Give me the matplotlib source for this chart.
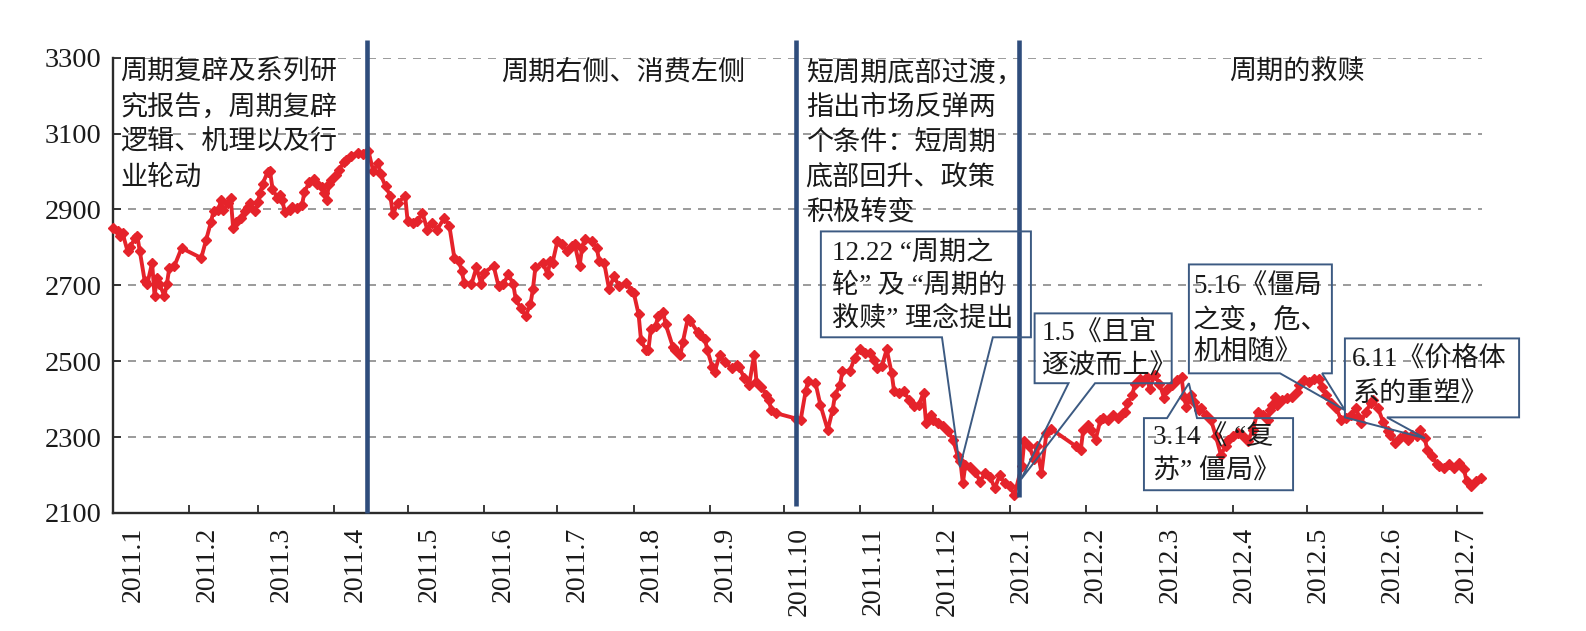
import numpy as np
import matplotlib
matplotlib.use('Agg')
import matplotlib.pyplot as plt
import matplotlib.dates as mdates
from matplotlib.patches import Polygon
from matplotlib.ticker import FixedLocator, NullFormatter, FixedFormatter

FONT = ['Liberation Serif', 'Noto Sans CJK SC', 'DejaVu Sans']
plt.rcParams['font.family'] = FONT

# ---------------- data (days since 2011-01-04, index close) ----------------
start_date = '2011-01-04'
day_offset = [
    0, 2, 3, 4, 6, 7, 9, 10, 11, 13, 14, 16, 17, 18, 19, 21, 22, 23, 25, 28,
    36, 38, 40, 41, 43, 44, 45, 47, 48, 49, 50, 52, 54, 55, 56, 58, 59, 60, 61, 63,
    64, 65, 67, 68, 69, 70, 72, 73, 75, 77, 78, 80, 82, 83, 85, 86, 87, 88, 89, 91,
    92, 94, 95, 97,
    100, 102, 104, 106, 108, 109, 111, 113, 114, 116, 119, 120, 122, 124, 126, 128,
    130, 132, 135, 137, 139, 141, 142, 143, 146, 148, 150, 151, 155, 157, 159, 161,
    163, 164, 166, 168, 170, 171, 172, 175, 177, 178, 179, 181, 183, 185, 187, 188,
    190, 191, 192, 195,
    197, 198, 200, 202, 204, 206, 209, 211, 212, 214, 215, 217, 218, 219, 221, 222,
    224, 225, 228, 229, 231, 232, 234, 235, 238, 239, 241, 242, 244, 245, 247, 249,
    252, 254, 255, 257, 259, 261, 262, 264, 266, 267, 268, 270, 278, 280,
    282, 283, 286, 288, 291, 293, 294, 296, 297, 300, 302, 304, 306, 308, 310, 311,
    313, 315, 317, 318, 320, 322, 324, 326, 328, 330, 331, 333, 334, 336, 338, 340,
    342, 344, 345, 346, 347, 349, 351, 353, 355, 357, 359, 361, 363, 365, 367,
    370, 371, 373, 375, 376, 378, 380, 382, 392, 394, 395, 397, 398, 400, 402, 403,
    405, 407, 409, 411, 412, 413, 415, 416, 418, 419, 421, 422, 424, 426, 428, 429,
    431, 433, 435, 436, 437, 439, 440, 442, 443, 445, 447, 449, 451, 453, 454, 456,
    458, 460, 462,
    464, 466, 468, 470, 471, 472, 473, 474, 476, 478, 480, 482, 483, 485, 487, 489,
    491, 492, 494, 496, 498, 500, 502, 504, 506, 507, 508, 510, 512, 513, 515, 517,
    519, 520, 522, 524, 526, 527, 529, 531, 532, 534, 535, 537, 539, 540, 542, 544,
    546, 548, 550, 551, 553, 555, 557,
]
close = [
    2852, 2842, 2829, 2837, 2790, 2800, 2824, 2829, 2790, 2711, 2703, 2759, 2672, 2720, 2703, 2672, 2703, 2746, 2750, 2798,
    2772, 2820, 2868, 2896, 2898, 2924, 2898, 2916, 2929, 2850, 2868, 2877, 2896, 2907, 2916, 2896, 2920, 2942, 2968, 2998,
    3000, 2955, 2929, 2937, 2924, 2894, 2898, 2907, 2903, 2911, 2946, 2972, 2981, 2968, 2959, 2942, 2924, 2968, 2977, 2990,
    3003, 3024, 3029, 3042,
    3049, 3045, 3055, 3001, 3023, 2992, 2961, 2935, 2887, 2918, 2935, 2869, 2865, 2869, 2891, 2847,
    2865, 2847, 2878, 2856, 2773, 2764, 2738, 2707, 2703, 2747, 2703, 2733, 2751, 2698, 2703, 2729,
    2703, 2663, 2641, 2619, 2650, 2690, 2747, 2760, 2729, 2764, 2760, 2817, 2808, 2790, 2804, 2808,
    2751, 2799, 2821, 2818,
    2798, 2763, 2759, 2690, 2724, 2698, 2707, 2685, 2681, 2624, 2555, 2529, 2529, 2585, 2594, 2620,
    2629, 2598, 2537, 2529, 2516, 2550, 2611, 2607, 2577, 2568, 2559, 2529, 2485, 2472, 2516, 2498,
    2481, 2490, 2485, 2455, 2437, 2516, 2446, 2433, 2411, 2398, 2372, 2363, 2349, 2346,
    2421, 2447, 2443, 2385, 2319, 2372, 2412, 2438, 2474, 2474, 2509, 2531, 2522, 2522, 2504, 2482,
    2487, 2531, 2469, 2421, 2416, 2421, 2399, 2381, 2385, 2416, 2337, 2359, 2346, 2337, 2328, 2315,
    2293, 2249, 2236, 2178, 2227, 2222, 2209, 2183, 2205, 2196, 2165, 2200, 2178, 2170, 2148,
    2223, 2289, 2276, 2241, 2276, 2206, 2310, 2321, 2276, 2267, 2319, 2332, 2319, 2293, 2345, 2350,
    2345, 2358, 2350, 2363, 2367, 2389, 2410, 2441, 2454, 2445, 2458, 2428, 2463, 2441, 2402, 2428,
    2437, 2450, 2458, 2406, 2380, 2410, 2393, 2371, 2376, 2358, 2345, 2302, 2254, 2276, 2293, 2302,
    2310, 2302, 2289,
    2319, 2367, 2358, 2345, 2371, 2384, 2406, 2384, 2397, 2402, 2406, 2419, 2437, 2450, 2445, 2454,
    2454, 2432, 2410, 2389, 2376, 2345, 2350, 2358, 2376, 2354, 2337, 2367, 2389, 2397, 2376, 2341,
    2315, 2306, 2284, 2297, 2306, 2293, 2306, 2302, 2319, 2297, 2267, 2250, 2228, 2224, 2219, 2228,
    2219, 2232, 2215, 2184, 2171, 2184, 2193,
]
month_labels = ['2011.1', '2011.2', '2011.3', '2011.4', '2011.5', '2011.6', '2011.7',
                '2011.8', '2011.9', '2011.10', '2011.11', '2011.12', '2012.1', '2012.2',
                '2012.3', '2012.4', '2012.5', '2012.6', '2012.7']
y_ticks = [2100, 2300, 2500, 2700, 2900, 3100, 3300]

# phase dividers (day offsets) and their lower ends (index values)
divider_days = [103.3, 278.1, 368.8]
divider_bottom = [2100, 2118, 2142]

phase_texts = [
    (3, ['周期复辟及系列研', '究报告，周期复辟', '逻辑、机理以及行', '业轮动']),
    (158, ['周期右侧、消费左侧']),
    (282, ['短周期底部过渡，', '指出市场反弹两', '个条件：短周期', '底部回升、政策', '积极转变']),
    (454.4, ['周期的救赎']),
]

# callouts: box (d0, d1, v_bottom, v_top), wedge side, wedge base (d), tip (d, v), lines, text left, first line v
callouts = [
    dict(box=(288.2, 373.7, 2563, 2842), side='bottom', base=(337.5, 358.2), tip=(344.8, 2221),
         lines=['12.22 “周期之', '轮” 及 “周期的', '救赎” 理念提出'], tx=292.8, ty=2785, pitch=88),
    dict(box=(375.2, 431.0, 2442, 2626), side='bottom', base=(389.0, 399.8), tip=(369.7, 2189),
         lines=['1.5《且宜', '逐波而上》'], tx=378.2, ty=2574, pitch=89),
    dict(box=(419.7, 480.4, 2160, 2350), side='top', base=(429.1, 441.3), tip=(438.0, 2442),
         lines=['3.14《 “复', '苏” 僵局》'], tx=423.4, ty=2298, pitch=90),
    dict(box=(438.0, 496.2, 2468, 2755), side='bottom', base=(475.1, 492.2), tip=(501.5, 2371),
         lines=['5.16《僵局', '之变，危、', '机相随》'], tx=439.7, ty=2695, pitch=87),
    dict(box=(501.5, 572.4, 2352, 2560), side='bottom', base=(501.5, 518.6), tip=(534.1, 2297),
         lines=['6.11《价格体', '系的重塑》'], tx=504.3, ty=2503, pitch=92),
]

# ---------------- drawing ----------------
W, H = 1586, 631
fig = plt.figure(figsize=(W / 100, H / 100), dpi=100)
ax = fig.add_axes([112.8 / W, 1 - 513 / H, (1482 - 112.8) / W, (513 - 57.6) / H])

x0 = mdates.date2num(np.datetime64(start_date))
xs = x0 + np.asarray(day_offset, dtype=float)

ax.set_xlim(x0, x0 + 557.3)
ax.set_ylim(2100, 3300)

RED = '#e5232b'
ax.plot(xs, close, color=RED, lw=2.8, marker='D', ms=5.2, mec=RED, mfc=RED,
        zorder=3, clip_on=False)

# grid
ax.set_yticks(y_ticks)
ax.yaxis.grid(True, linestyle=(0, (4.8, 4.2)), color='#8a8a8a', lw=1.2)
ax.set_axisbelow(True)

# spines
for s in ['top', 'right']:
    ax.spines[s].set_visible(False)
for s in ['left', 'bottom']:
    ax.spines[s].set_color('#2b2b2b')
    ax.spines[s].set_linewidth(1.7)

# x ticks: marks at the 4th of each month, labels evenly spaced slightly after
months = np.arange(np.datetime64('2011-01'), np.datetime64('2012-08'), dtype='datetime64[M]')
tick_days = mdates.date2num(months.astype('datetime64[D]') + np.timedelta64(3, 'D'))
ax.xaxis.set_major_locator(FixedLocator(tick_days))
ax.xaxis.set_major_formatter(NullFormatter())
label_pos = x0 + np.linspace(8.2, 550.8, len(month_labels))
ax.xaxis.set_minor_locator(FixedLocator(label_pos))
ax.xaxis.set_minor_formatter(FixedFormatter(month_labels))
ax.tick_params(axis='x', which='major', direction='in', length=6, width=1.3, color='#2b2b2b')
ax.tick_params(axis='x', which='minor', length=0, pad=10, labelsize=20, labelcolor='#1a1a1a')
for lab in ax.xaxis.get_minorticklabels():
    lab.set_rotation(90)
    lab.set_va('top')
    lab.set_ha('center')
    lab.set_fontfamily(FONT)

ax.tick_params(axis='y', direction='in', length=6, width=1.3, color='#2b2b2b',
               pad=8, labelsize=20.5, labelcolor='#1a1a1a')

# phase dividers
BLUE = '#2f4d7c'
for d, vb in zip(divider_days, divider_bottom):
    ax.plot([x0 + d, x0 + d], [vb, 3347], color=BLUE, lw=3.3, clip_on=False, zorder=4,
            solid_capstyle='butt')

# phase texts
PITCH = 35 / (455.4 / 1200)
for d, lines in phase_texts:
    for i, ln in enumerate(lines):
        ax.text(x0 + d, 3259 - i * PITCH, ln, fontsize=19.5, color='#1a1a1a',
                ha='left', va='center', family=FONT, zorder=6, clip_on=False)

# callouts
EDGE = '#3c5a82'
for c in callouts:
    a, b, lo, hi = c['box']
    b0, b1 = c['base']
    tip = (x0 + c['tip'][0], c['tip'][1])
    a, b, b0, b1 = x0 + a, x0 + b, x0 + b0, x0 + b1
    if c['side'] == 'bottom':
        pts = [(a, hi), (b, hi), (b, lo), (b1, lo), tip, (b0, lo), (a, lo)]
    else:
        pts = [(a, lo), (b, lo), (b, hi), (b1, hi), tip, (b0, hi), (a, hi)]
    ax.add_patch(Polygon(pts, closed=True, fill=False, edgecolor=EDGE, lw=1.4,
                         clip_on=False, zorder=5, joinstyle='miter'))
    for i, ln in enumerate(c['lines']):
        ax.text(x0 + c['tx'], c['ty'] - i * c['pitch'], ln, fontsize=19.5, color='#1a1a1a',
                ha='left', va='center', family=FONT, zorder=6, clip_on=False)

fig.savefig('out.png', dpi=100)
